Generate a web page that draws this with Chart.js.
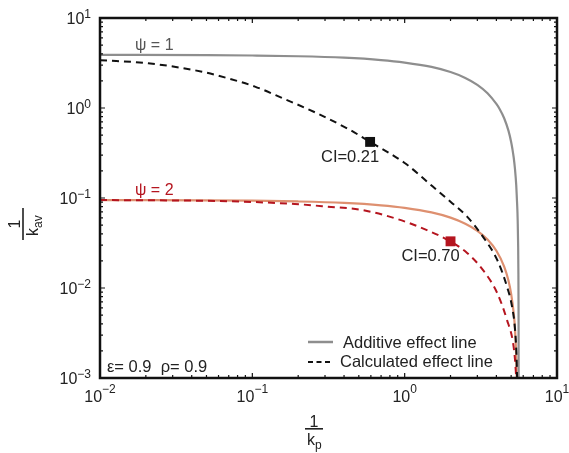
<!DOCTYPE html>
<html>
<head>
<meta charset="utf-8">
<script src="https://cdn.jsdelivr.net/npm/chart.js@4"></script>
<style>
  html, body { margin: 0; padding: 0; background: #fff; }
  #wrap { width: 569px; height: 453px; }
</style>
</head>
<body>
<div id="wrap"><canvas id="grafico"></canvas></div>
<script>
// Datos (1/kp, 1/kav)
const aditivo1X = [0.01, 0.05, 0.1, 0.2, 0.4, 0.7, 1.0, 1.5, 2.0, 2.5, 3.0, 3.5, 4.0, 4.2, 4.5, 4.8, 5.0, 5.1, 5.2, 5.3, 5.4, 5.45, 5.5, 5.52, 5.56, 5.58, 5.59, 5.595, 5.599];
const aditivo1Y = [3.89, 3.87, 3.83, 3.76, 3.62, 3.41, 3.20, 2.86, 2.51, 2.16, 1.81, 1.46, 1.11, 0.975, 0.77, 0.56, 0.42, 0.348, 0.28, 0.209, 0.139, 0.10, 0.070, 0.056, 0.028, 0.014, 0.007, 0.0035, 0.001];

const aditivo2X = [0.01, 0.1, 0.2, 0.4, 0.7, 1.0, 1.5, 2.0, 2.5, 3.0, 3.5, 4.0, 4.5, 4.8, 5.0, 5.2, 5.3, 5.4, 5.44];
const aditivo2Y = [0.0948, 0.0933, 0.0915, 0.0881, 0.0829, 0.0777, 0.0691, 0.0605, 0.0518, 0.0432, 0.0345, 0.0259, 0.0173, 0.0121, 0.0086, 0.0052, 0.0035, 0.0017, 0.001];

const calculado1X = [0.01, 0.0207, 0.0468, 0.069, 0.104, 0.159, 0.266, 0.438, 0.593, 1.0, 1.53, 2.0, 2.57, 3.27, 4.05, 4.70, 5.07, 5.3, 5.42, 5.47];
const calculado1Y = [3.40, 3.14, 2.53, 2.14, 1.73, 1.28, 0.873, 0.57, 0.42, 0.245, 0.134, 0.091, 0.062, 0.037, 0.0205, 0.0103, 0.0062, 0.0035, 0.0018, 0.001];

const calculado2X = [0.01, 0.069, 0.19, 0.314, 0.525, 0.906, 1.40, 2.01, 2.57, 3.27, 4.05, 4.70, 5.14, 5.3, 5.4];
const calculado2Y = [0.095, 0.092, 0.0858, 0.080, 0.0736, 0.058, 0.044, 0.0327, 0.0245, 0.0158, 0.0088, 0.0044, 0.0025, 0.0016, 0.001];

// Puntos con índice de combinación
const puntosCI = [
  { x: 0.593, y: 0.42, label: 'CI=0.21', color: '#111111' },
  { x: 2.0, y: 0.033, label: 'CI=0.70', color: '#b5151f' }
];

const ticksX = [0.01, 0.1, 1, 10];
const expX = ['\u22122', '\u22121', '0', '1'];
const ticksY = [0.001, 0.01, 0.1, 1, 10];
const expY = ['\u22123', '\u22122', '\u22121', '0', '1'];

const GRIS = '#8e8e8e';
const NARANJA = '#de9070';
const ROJO = '#b5151f';
const FUENTE = '"Liberation Sans", Arial, sans-serif';

const pares = (xs, ys) => xs.map((x, i) => ({ x, y: ys[i] }));

// Plugin para caja, ticks, etiquetas y anotaciones estilo MATLAB
const decoracion = {
  id: 'decoracion',
  afterDraw(chart) {
    const { ctx, chartArea: a, scales } = chart;
    const sx = scales.x, sy = scales.y;
    ctx.save();

    // caja
    ctx.strokeStyle = '#111';
    ctx.lineWidth = 2.5;
    ctx.strokeRect(a.left, a.top, a.right - a.left, a.bottom - a.top);

    // ticks (mayores y menores) hacia adentro en los cuatro lados
    ctx.lineWidth = 1.2;
    ctx.beginPath();
    for (let e = -2; e < 1; e++) {
      for (let m = 1; m < 10; m++) {
        const px = sx.getPixelForValue(m * Math.pow(10, e));
        const len = m === 1 ? 5 : 3;
        ctx.moveTo(px, a.bottom); ctx.lineTo(px, a.bottom - len);
        ctx.moveTo(px, a.top); ctx.lineTo(px, a.top + len);
      }
    }
    for (let e = -3; e < 1; e++) {
      for (let m = 1; m < 10; m++) {
        const py = sy.getPixelForValue(m * Math.pow(10, e));
        const len = m === 1 ? 5 : 3;
        ctx.moveTo(a.left, py); ctx.lineTo(a.left + len, py);
        ctx.moveTo(a.right, py); ctx.lineTo(a.right - len, py);
      }
    }
    ctx.stroke();

    // etiquetas de ticks con exponente
    ctx.fillStyle = '#222';
    ctx.textBaseline = 'alphabetic';
    const base = '16px ' + FUENTE, sup = '12px ' + FUENTE;
    ticksX.forEach((v, i) => {
      const px = sx.getPixelForValue(v);
      ctx.font = base; const w1 = ctx.measureText('10').width;
      ctx.font = sup; const w2 = ctx.measureText(expX[i]).width;
      const x0 = px - (w1 + w2) / 2;
      ctx.font = base; ctx.textAlign = 'left';
      ctx.fillText('10', x0, a.bottom + 24);
      ctx.font = sup;
      ctx.fillText(expX[i], x0 + w1, a.bottom + 15);
    });
    ticksY.forEach((v, i) => {
      const py = sy.getPixelForValue(v);
      ctx.font = sup; const w2 = ctx.measureText(expY[i]).width;
      ctx.textAlign = 'right';
      ctx.fillText(expY[i], a.left - 9, py);
      ctx.font = base;
      ctx.fillText('10', a.left - 9 - w2, py + 6);
    });

    // título eje x: 1/kp
    ctx.textAlign = 'center';
    ctx.font = '16px ' + FUENTE;
    ctx.fillText('1', 314, 427);
    ctx.fillRect(305, 428, 18, 1.6);
    ctx.textAlign = 'left';
    ctx.fillText('k', 307, 445);
    ctx.font = '12px ' + FUENTE;
    ctx.fillText('p', 315, 449);

    // título eje y: 1/kav (rotado)
    ctx.save();
    ctx.translate(23, 224);
    ctx.rotate(-Math.PI / 2);
    ctx.textAlign = 'center';
    ctx.font = '16px ' + FUENTE;
    ctx.fillText('1', 0, -3);
    ctx.fillRect(-16, -0.8, 32, 1.6);
    ctx.textAlign = 'left';
    ctx.fillText('k', -12, 15);
    ctx.font = '12px ' + FUENTE;
    ctx.fillText('av', -4, 19);
    ctx.restore();

    // etiquetas psi
    ctx.textAlign = 'left';
    ctx.font = '16px ' + FUENTE;
    ctx.fillStyle = '#555';
    ctx.fillText('\u03c8 = 1', 135, 50);
    ctx.fillStyle = ROJO;
    ctx.fillText('\u03c8 = 2', 135, 195);

    // etiquetas CI
    ctx.fillStyle = '#222';
    ctx.textAlign = 'center';
    ctx.font = '16.5px ' + FUENTE;
    puntosCI.forEach(p => {
      const px = sx.getPixelForValue(p.x), py = sy.getPixelForValue(p.y);
      ctx.fillText(p.label, px - 20, py + 20);
    });

    // parámetros
    ctx.textAlign = 'left';
    ctx.font = '16.5px ' + FUENTE;
    ctx.fillText('\u03b5= 0.9  \u03c1= 0.9', 107, 372);

    // leyenda
    ctx.strokeStyle = GRIS;
    ctx.lineWidth = 2.5;
    ctx.setLineDash([]);
    ctx.beginPath(); ctx.moveTo(308, 342); ctx.lineTo(333, 342); ctx.stroke();
    ctx.strokeStyle = '#111';
    ctx.lineWidth = 2;
    ctx.setLineDash([5, 3.5]);
    ctx.beginPath(); ctx.moveTo(308, 362); ctx.lineTo(333, 362); ctx.stroke();
    ctx.setLineDash([]);
    ctx.fillStyle = '#222';
    ctx.font = '16.5px ' + FUENTE;
    ctx.fillText('Additive effect line', 343, 348);
    ctx.fillText('Calculated effect line', 340, 367);

    ctx.restore();
  }
};

const linea = { showLine: true, pointRadius: 0, cubicInterpolationMode: 'monotone' };

new Chart(document.getElementById('grafico'), {
  type: 'scatter',
  data: {
    datasets: [
      {
        label: 'CI',
        data: puntosCI.map(p => ({ x: p.x, y: p.y })),
        showLine: false,
        pointStyle: 'rect',
        pointRadius: 7,
        backgroundColor: puntosCI.map(p => p.color),
        borderColor: puntosCI.map(p => p.color),
        borderWidth: 0
      },
      {
        ...linea,
        label: 'Calculated ψ=1',
        data: pares(calculado1X, calculado1Y),
        borderColor: '#111', borderWidth: 2, borderDash: [7, 5]
      },
      {
        ...linea,
        label: 'Calculated ψ=2',
        data: pares(calculado2X, calculado2Y),
        borderColor: ROJO, borderWidth: 2, borderDash: [7, 5]
      },
      {
        ...linea,
        label: 'Additive ψ=1',
        data: pares(aditivo1X, aditivo1Y),
        borderColor: GRIS, borderWidth: 2.2
      },
      {
        ...linea,
        label: 'Additive ψ=2',
        data: pares(aditivo2X, aditivo2Y),
        borderColor: NARANJA, borderWidth: 2.2
      }
    ]
  },
  options: {
    responsive: true,
    maintainAspectRatio: false,
    animation: false,
    layout: { padding: { left: 100, right: 12, top: 18, bottom: 75 } },
    plugins: { legend: { display: false }, tooltip: { enabled: false } },
    scales: {
      x: { type: 'logarithmic', min: 0.01, max: 10, display: false },
      y: { type: 'logarithmic', min: 0.001, max: 10, display: false }
    }
  },
  plugins: [decoracion]
});
</script>
</body>
</html>
